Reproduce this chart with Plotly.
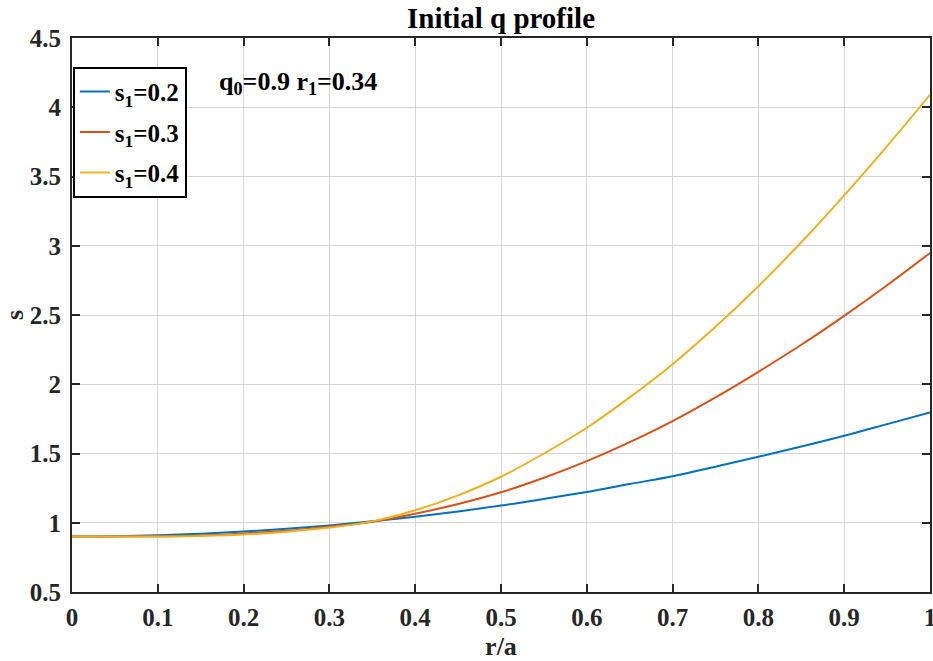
import plotly.graph_objects as go

r = [0.0, 0.05, 0.1, 0.15, 0.2, 0.25, 0.3, 0.35, 0.4, 0.45, 0.5,
     0.55, 0.6, 0.65, 0.7, 0.75, 0.8, 0.85, 0.9, 0.95, 1.0]
s_02 = [0.900, 0.902, 0.909, 0.920, 0.936, 0.956, 0.981, 1.010, 1.044, 1.082, 1.124,
        1.172, 1.222, 1.280, 1.336, 1.405, 1.476, 1.550, 1.628, 1.712, 1.797]
s_03 = [0.900, 0.900, 0.902, 0.908, 0.922, 0.942, 0.972, 1.008, 1.065, 1.135, 1.220,
        1.325, 1.445, 1.582, 1.734, 1.905, 2.090, 2.285, 2.494, 2.715, 2.948]
s_04 = [0.900, 0.900, 0.901, 0.905, 0.915, 0.935, 0.965, 1.010, 1.090, 1.198, 1.332,
        1.500, 1.686, 1.905, 2.145, 2.415, 2.708, 3.025, 3.364, 3.720, 4.090]
names = ["s<sub>1</sub>=0.2", "s<sub>1</sub>=0.3", "s<sub>1</sub>=0.4"]
colors = ["#0072BD", "#D95319", "#EDB120"]
x_ticks = [0, 0.1, 0.2, 0.3, 0.4, 0.5, 0.6, 0.7, 0.8, 0.9, 1]
y_ticks = [0.5, 1, 1.5, 2, 2.5, 3, 3.5, 4, 4.5]

FONT = "Liberation Serif"
AX = "#262626"

fig = go.Figure()
for i, (ys, nm, c) in enumerate(zip([s_02, s_03, s_04], names, colors)):
    fig.add_trace(go.Scatter(x=r, y=ys, mode="lines", name=nm, legendgroup=f"g{i}",
                             line=dict(color=c, width=2, shape="spline", smoothing=1)))

axis_common = dict(
    showgrid=True, gridcolor="#d6d6d6", gridwidth=1,
    showline=True, linecolor=AX, linewidth=2, mirror="ticks",
    ticks="inside", ticklen=8, tickwidth=1.5, tickcolor=AX,
    zeroline=False, automargin=False, ticklabeloverflow="allow",
    tickfont=dict(family=FONT, size=25, color=AX, weight="bold"),
)

fig.update_layout(
    width=933, height=661,
    margin=dict(l=72, r=3, t=38, b=69),
    paper_bgcolor="white", plot_bgcolor="white",
    font=dict(family=FONT, color="black", weight="bold"),
    title=dict(text="Initial q profile", x=0.537, xanchor="center",
               y=1 - 28 / 661, yanchor="bottom", yref="container",
               font=dict(family=FONT, size=29, color="black", weight="bold")),
    xaxis=dict(range=[0, 1], tickvals=x_ticks, ticklabelstandoff=2,
               title=dict(text="r/a", standoff=9,
                          font=dict(family=FONT, size=26, color=AX, weight="bold")),
               **axis_common),
    yaxis=dict(range=[0.5, 4.5], tickvals=y_ticks, ticklabelstandoff=4,
               title=dict(text="s", standoff=14,
                          font=dict(family=FONT, size=26, color=AX, weight="bold")),
               **axis_common),
    legend=dict(x=0.001, y=0.948, xanchor="left", yanchor="top",
                bgcolor="white", bordercolor="black", borderwidth=2,
                font=dict(family=FONT, size=25, color="black", weight="bold"),
                traceorder="grouped", tracegroupgap=5, itemwidth=30),
    showlegend=True,
)

fig.add_annotation(x=0.169, y=0.952, xref="paper", yref="paper",
                   xanchor="left", yanchor="top", showarrow=False,
                   text="q<sub>0</sub>=0.9 r<sub>1</sub>=0.34",
                   font=dict(family=FONT, size=26, color="black", weight="bold"))

fig.write_html("out.html")
